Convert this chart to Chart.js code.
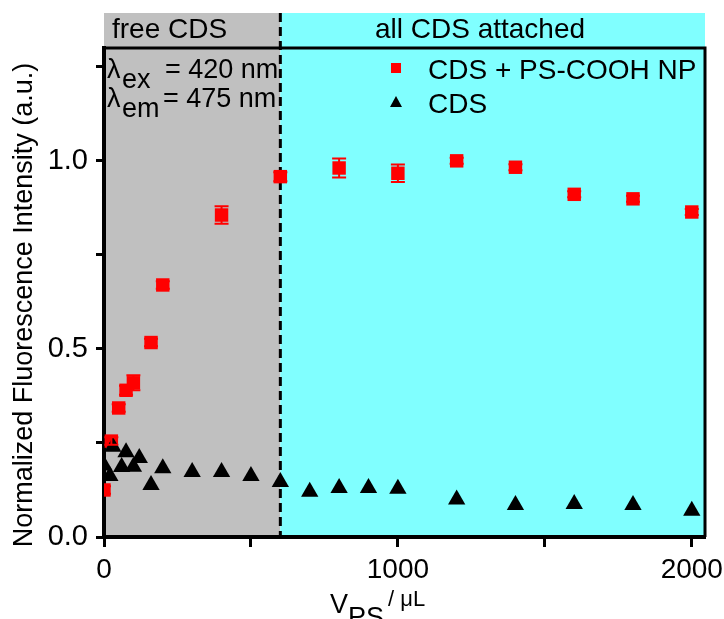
<!DOCTYPE html>
<html>
<head>
<meta charset="utf-8">
<script src="https://cdn.jsdelivr.net/npm/chart.js@4.4.1/dist/chart.umd.min.js"></script>
<style>
  body { margin: 0; background: #fff; }
  #wrap { width: 724px; height: 619px; }
</style>
</head>
<body>
<div id="wrap"><canvas id="chart" width="724" height="619"></canvas></div>
<script>
// CDS + PS-COOH NP (red squares, with error bars)
const npVolume = [0, 25, 50, 75, 100, 160, 200, 400, 600, 800, 1000, 1200, 1400, 1600, 1800, 2000];
const npIntensity = [0.125, 0.255, 0.343, 0.39, 0.41, 0.517, 0.67, 0.856, 0.958, 0.981, 0.967, 1.0, 0.983, 0.911, 0.899, 0.864];
const npError = [0.01, 0.01, 0.01, 0.012, 0.02, 0.01, 0.01, 0.023, 0.012, 0.025, 0.023, 0.008, 0.008, 0.008, 0.008, 0.008];

// CDS alone (black triangles)
const cdsVolume = [0, 20, 30, 60, 75, 100, 120, 160, 200, 300, 400, 500, 600, 700, 800, 900, 1000, 1200, 1400, 1600, 1800, 2000];
const cdsIntensity = [0.19, 0.162, 0.24, 0.186, 0.225, 0.187, 0.21, 0.138, 0.183, 0.173, 0.173, 0.162, 0.146, 0.12, 0.13, 0.13, 0.128, 0.10, 0.085, 0.088, 0.085, 0.07];

// tick marks; only the labelled ones get text
const xTickMarks = [0, 500, 1000, 1500, 2000];
const xTickLabels = [0, 1000, 2000];
const yTickMarks = [0, 0.25, 0.5, 0.75, 1.0, 1.25];
const yTickLabels = [0, 0.5, 1.0];
const freeLimit = 600;   // end of the "free CDS" region

const FONT = 'Arial, "Liberation Sans", sans-serif';

function toPoints(xs, ys) {
  return xs.map((x, i) => ({ x: x, y: ys[i] }));
}

function hasValue(list, v) {
  return list.some(t => Math.abs(t - v) < 1e-6);
}

// background regions, dashed divider, frame, error bars and all the free text
const decor = {
  id: 'decor',
  beforeDraw(chart) {
    const { ctx, chartArea: a, scales } = chart;
    const xs = scales.x.getPixelForValue(freeLimit);
    const top = a.top - 35;
    ctx.save();
    ctx.fillStyle = '#c0c0c0';
    ctx.fillRect(a.left, top, xs - a.left, a.bottom - top);
    ctx.fillStyle = '#80ffff';
    ctx.fillRect(xs, top, a.right - xs, a.bottom - top);
    ctx.restore();
  },
  beforeDatasetsDraw(chart) {
    const { ctx, chartArea: a, scales } = chart;
    const xs = scales.x.getPixelForValue(freeLimit);
    ctx.save();
    ctx.strokeStyle = '#000';
    ctx.lineWidth = 3;
    ctx.beginPath();
    ctx.moveTo(a.left, a.top);
    ctx.lineTo(a.right, a.top);
    ctx.lineTo(a.right, a.bottom);
    ctx.stroke();
    ctx.setLineDash([9, 5]);
    ctx.beginPath();
    ctx.moveTo(xs, a.top - 35);
    ctx.lineTo(xs, a.bottom);
    ctx.stroke();
    ctx.restore();
  },
  afterDatasetsDraw(chart) {
    const { ctx, chartArea: a, scales } = chart;
    const xScale = scales.x, yScale = scales.y;

    // error bars on the red series
    ctx.save();
    ctx.beginPath();
    ctx.rect(a.left, a.top, a.right - a.left, a.bottom - a.top);
    ctx.clip();
    ctx.strokeStyle = '#ff0000';
    ctx.lineWidth = 2;
    npVolume.forEach((v, i) => {
      const px = xScale.getPixelForValue(v);
      const hi = yScale.getPixelForValue(npIntensity[i] + npError[i]);
      const lo = yScale.getPixelForValue(npIntensity[i] - npError[i]);
      ctx.beginPath();
      ctx.moveTo(px, hi); ctx.lineTo(px, lo);
      ctx.moveTo(px - 7, hi); ctx.lineTo(px + 7, hi);
      ctx.moveTo(px - 7, lo); ctx.lineTo(px + 7, lo);
      ctx.stroke();
    });
    ctx.restore();

    ctx.save();
    ctx.fillStyle = '#000';
    ctx.textBaseline = 'alphabetic';

    // region labels
    ctx.font = '28px ' + FONT;
    ctx.textAlign = 'left';
    ctx.fillText('free CDS', 112, 38);
    ctx.textAlign = 'center';
    ctx.fillText('all CDS attached', 480, 38);

    // excitation / emission wavelengths
    ctx.font = '27px ' + FONT;
    ctx.textAlign = 'left';
    ctx.fillText('\u03bb', 107, 78);
    ctx.fillText('ex', 122, 88);
    ctx.fillText('= 420 nm', 165, 78);
    ctx.fillText('\u03bb', 107, 107);
    ctx.fillText('em', 122, 117);
    ctx.fillText('= 475 nm', 163, 107);

    // legend
    ctx.fillStyle = '#ff0000';
    ctx.fillRect(391, 63, 10, 10);
    ctx.fillStyle = '#000';
    ctx.beginPath();
    ctx.moveTo(396, 96);
    ctx.lineTo(402, 107);
    ctx.lineTo(390, 107);
    ctx.closePath();
    ctx.fill();
    ctx.font = '28px ' + FONT;
    ctx.fillText('CDS + PS-COOH NP', 428, 79);
    ctx.fillText('CDS', 428, 113);

    // axis titles
    ctx.save();
    ctx.translate(32, 305);
    ctx.rotate(-Math.PI / 2);
    ctx.textAlign = 'center';
    ctx.font = '27px ' + FONT;
    ctx.fillText('Normalized Fluorescence Intensity (a.u.)', 0, 0);
    ctx.restore();

    ctx.textAlign = 'left';
    ctx.font = '27px ' + FONT;
    ctx.fillText('V', 330, 613);
    ctx.fillText('PS', 348, 626);
    ctx.font = '22px ' + FONT;
    ctx.fillText('/ \u03bcL', 388, 606);
    ctx.restore();
  }
};

new Chart(document.getElementById('chart'), {
  type: 'scatter',
  data: {
    datasets: [
      {
        label: 'CDS + PS-COOH NP',
        data: toPoints(npVolume, npIntensity),
        pointStyle: 'rect',
        pointRadius: 9.5,
        backgroundColor: '#ff0000',
        borderWidth: 0,
        clip: 0,
        order: 2
      },
      {
        label: 'CDS',
        data: toPoints(cdsVolume, cdsIntensity),
        pointStyle: 'triangle',
        pointRadius: 10,
        backgroundColor: '#000',
        borderWidth: 0,
        clip: 0,
        order: 1
      }
    ]
  },
  options: {
    responsive: false,
    animation: false,
    layout: { padding: { top: 48, right: 19, left: 0, bottom: 0 } },
    plugins: {
      legend: { display: false },
      tooltip: { enabled: false }
    },
    scales: {
      x: {
        type: 'linear',
        min: 0,
        max: 2045,
        afterFit(scale) {
          scale.height = 82;
          // let the "2000" label run into the right margin
          scale.paddingLeft = 0;
          scale.paddingRight = 0;
        },
        afterBuildTicks(scale) { scale.ticks = xTickMarks.map(v => ({ value: v })); },
        border: { color: '#000', width: 4 },
        grid: { drawOnChartArea: false, tickLength: 10, tickWidth: 3, tickColor: '#000' },
        ticks: {
          maxRotation: 0,
          autoSkip: false,
          padding: 6,
          color: '#000',
          font: { size: 28, family: FONT },
          callback: (v) => hasValue(xTickLabels, v) ? String(v) : ''
        }
      },
      y: {
        min: 0,
        max: 1.3,
        afterFit(scale) {
          scale.width = 104;
          scale.paddingTop = 0;
          scale.paddingBottom = 0;
        },
        afterBuildTicks(scale) { scale.ticks = yTickMarks.map(v => ({ value: v })); },
        border: { color: '#000', width: 4 },
        grid: { drawOnChartArea: false, tickLength: 8, tickWidth: 3, tickColor: '#000' },
        ticks: {
          autoSkip: false,
          padding: 8,
          color: '#000',
          font: { size: 29, family: FONT },
          callback: (v) => hasValue(yTickLabels, v) ? v.toFixed(1) : ''
        }
      }
    }
  },
  plugins: [decor]
});
</script>
</body>
</html>
